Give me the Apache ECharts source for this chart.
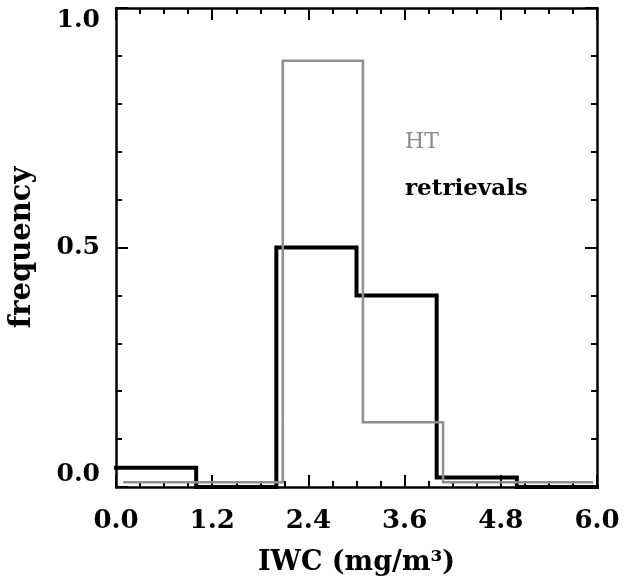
<!DOCTYPE html>
<html>
<head>
<meta charset="utf-8">
<script src="https://cdn.jsdelivr.net/npm/echarts@6/dist/echarts.min.js"></script>
<style>html,body{margin:0;padding:0;background:#fff}#c{width:625px;height:582px}</style>
</head>
<body>
<div id="c"></div>
<script>
// x tick labels
var xTicks = ['0.0', '1.2', '2.4', '3.6', '4.8', '6.0'];
var yTicks = ['0.0', '0.5', '1.0'];
// retrievals (black) histogram: bin edges and frequencies
var retEdges = [0, 1, 2, 3, 4, 5, 6];
var retFreq = [0.04, 0, 0.5, 0.4, 0.02, 0];
// HT (gray) histogram: bin edges and frequencies (as drawn)
var htEdges = [0.09, 1.08, 2.08, 3.08, 4.08, 5.08, 5.95];
var htFreq = [0.01, 0.01, 0.89, 0.135, 0.01, 0.01];

function steps(edges, vals) {
  var pts = [];
  for (var i = 0; i < vals.length; i++) {
    pts.push([edges[i], vals[i]]);
    pts.push([edges[i + 1], vals[i]]);
  }
  return pts;
}

var FONT = 'DejaVu Serif';
var chart = echarts.init(document.getElementById('c'), null, {renderer: 'canvas'});
var axisCommon = {
  axisLine: {show: true, onZero: false, lineStyle: {color: '#000', width: 2.5}},
  splitLine: {show: false},
  minorSplitLine: {show: false}
};
var tickStyle = {color: '#000', width: 2};
chart.setOption({
  animation: false,
  backgroundColor: '#fff',
  grid: {left: 116, right: 28, top: 8, bottom: 95, containLabel: false},
  xAxis: [
    Object.assign({
      type: 'value', position: 'bottom', min: 0, max: 6, interval: 1.2,
      axisTick: {show: true, inside: true, length: 12, lineStyle: tickStyle},
      minorTick: {show: true, splitNumber: 4, length: 6, lineStyle: tickStyle},
      axisLabel: {
        margin: 21, color: '#000', fontFamily: FONT, fontWeight: 'bold', fontSize: 26,
        formatter: function (v) { return xTicks[Math.round(v / 1.2)]; }
      },
      name: 'IWC (mg/m\u00b3)', nameLocation: 'middle', nameGap: 62,
      nameTextStyle: {color: '#000', fontFamily: FONT, fontWeight: 'bold', fontSize: 27, verticalAlign: 'top'}
    }, axisCommon),
    Object.assign({
      type: 'value', position: 'top', min: 0, max: 6, interval: 1.2,
      axisTick: {show: true, inside: true, length: 12, lineStyle: tickStyle},
      minorTick: {show: true, splitNumber: 4, length: 6, lineStyle: tickStyle},
      axisLabel: {show: false}
    }, axisCommon)
  ],
  yAxis: [
    Object.assign({
      type: 'value', position: 'left', min: 0, max: 1, interval: 0.5,
      axisTick: {show: true, inside: true, length: 12, lineStyle: tickStyle},
      minorTick: {show: true, splitNumber: 5, length: 6, lineStyle: tickStyle},
      axisLabel: {
        margin: 16, color: '#000', fontFamily: FONT, fontWeight: 'bold', fontSize: 25,
        verticalAlignMaxLabel: 'top', verticalAlignMinLabel: 'bottom',
        formatter: function (v) { return yTicks[Math.round(v / 0.5)]; }
      },
      name: 'frequency', nameLocation: 'middle', nameGap: 79, nameRotate: 90,
      nameTextStyle: {color: '#000', fontFamily: FONT, fontWeight: 'bold', fontSize: 29}
    }, axisCommon),
    Object.assign({
      type: 'value', position: 'right', min: 0, max: 1, interval: 0.5,
      axisTick: {show: true, inside: true, length: 12, lineStyle: tickStyle},
      minorTick: {show: true, splitNumber: 5, length: 6, lineStyle: tickStyle},
      axisLabel: {show: false}
    }, axisCommon)
  ],
  series: [
    {
      name: 'retrievals', type: 'line', xAxisIndex: 0, yAxisIndex: 0,
      data: steps(retEdges, retFreq), showSymbol: false, symbol: 'none', clip: false,
      lineStyle: {color: '#000', width: 4, join: 'miter', cap: 'square'}, z: 3
    },
    {
      name: 'HT', type: 'line', xAxisIndex: 0, yAxisIndex: 0,
      data: steps(htEdges, htFreq), showSymbol: false, symbol: 'none', clip: false,
      lineStyle: {color: '#8f8f8f', width: 2.5, join: 'miter'}, z: 4
    }
  ],
  graphic: [
    {type: 'text', left: 405, top: 131, style: {text: 'HT', fill: '#8a8a8a', font: 'normal 22px "DejaVu Serif"'}},
    {type: 'text', left: 405, top: 178, style: {text: 'retrievals', fill: '#000', font: 'bold 23px "DejaVu Serif"'}}
  ]
});
</script>
</body>
</html>
